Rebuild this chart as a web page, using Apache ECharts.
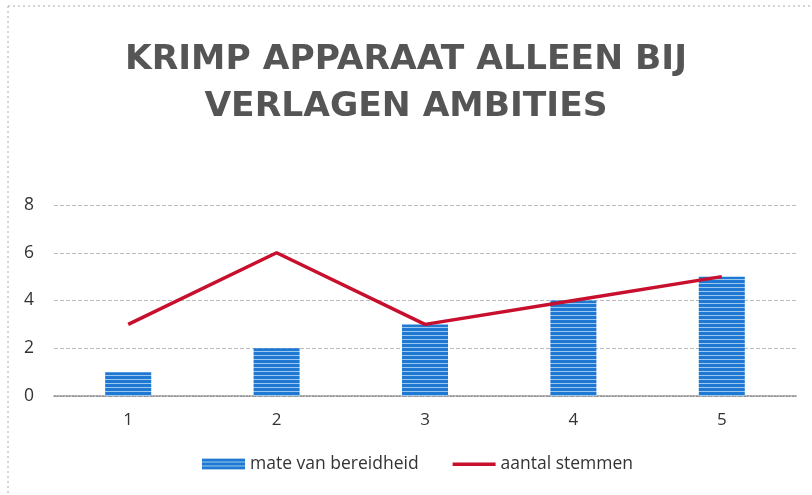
<!DOCTYPE html>
<html><head><meta charset="utf-8">
<script src="https://cdn.jsdelivr.net/npm/echarts@6/dist/echarts.min.js"></script>
<style>html,body{margin:0;padding:0;background:#fff}#c{width:812px;height:495px}</style>
</head><body><div id="c"></div>
<script>
const categories = ['1','2','3','4','5'];
const bereidheid = [1,2,3,4,5];
const stemmen = [3,6,3,4,5];
const yTicks = [0,2,4,6,8];

const pc = document.createElement('canvas');
pc.width = 8; pc.height = 4;
const g = pc.getContext('2d');
g.fillStyle = '#1f78d1'; g.fillRect(0,0,8,4);
g.fillStyle = '#9cc8f0'; g.fillRect(0,3,8,1);

const chart = echarts.init(document.getElementById('c'));
chart.setOption({
  animation:false,
  backgroundColor:'#fff',
  title:{text:'KRIMP APPARAAT ALLEEN BIJ\nVERLAGEN AMBITIES',left:'center',top:32,
    textStyle:{fontFamily:'DejaVu Sans',fontSize:34.5,fontWeight:'bold',color:'#555',lineHeight:47}},
  grid:{left:54,right:16,top:205,bottom:99},
  legend:{bottom:17,left:197,itemWidth:43,itemHeight:11,itemGap:34,
    textStyle:{fontFamily:'Open Sans',fontSize:17.5,color:'#333'},
    data:[{name:'mate van bereidheid',icon:'rect'},
          {name:'aantal stemmen',icon:'path://M0,0 L0,0 M0,4 L43,4 L43,7.5 L0,7.5 Z M43,11 L43,11'}]},
  xAxis:{type:'category',data:categories,
    axisLine:{lineStyle:{color:'#888',type:'dotted',width:1.5}},axisTick:{show:false},
    axisLabel:{fontFamily:'Open Sans',fontSize:17,color:'#333',margin:16}},
  yAxis:{type:'value',min:0,max:8,interval:2,
    axisLine:{show:false},axisTick:{show:false},
    axisLabel:{fontFamily:'Open Sans',fontSize:17.5,color:'#333',margin:20,
      formatter:v=>yTicks.includes(v)?String(v):''},
    splitLine:{lineStyle:{color:'#bbb',type:'dashed',width:1}}},
  graphic:[
    {type:'line',shape:{x1:8,y1:6,x2:8,y2:495},style:{stroke:'#aaa',lineDash:[2,3],lineWidth:1}},
    {type:'line',shape:{x1:8,y1:6,x2:812,y2:6},style:{stroke:'#aaa',lineDash:[2,3],lineWidth:1}}
  ],
  series:[
    {name:'mate van bereidheid',type:'bar',data:bereidheid,barWidth:46,
      itemStyle:{color:{image:pc,repeat:'repeat'}}},
    {name:'aantal stemmen',type:'line',data:stemmen,symbol:'none',
      lineStyle:{color:'#c8102e',width:3.5},itemStyle:{color:'#c8102e'}}
  ]
});
</script></body></html>
